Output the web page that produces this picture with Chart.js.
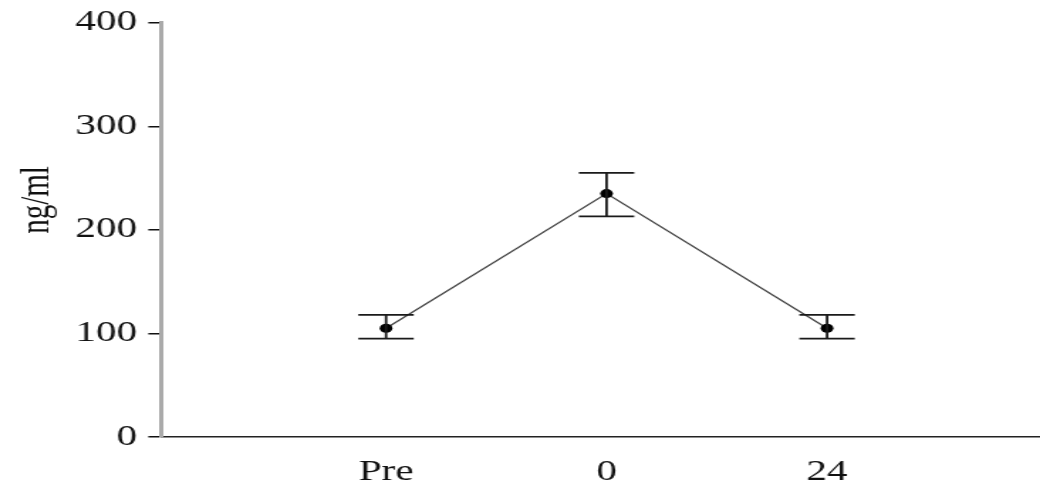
<!DOCTYPE html>
<html>
<head>
<meta charset="utf-8">
<script src="https://cdn.jsdelivr.net/npm/chart.js@4/dist/chart.umd.min.js"></script>
<style>
    html, body { margin: 0; padding: 0; background: #fff; overflow: hidden; }
    /* the source figure is stretched sideways, so the canvas is too */
    #wrap { width: 737px; height: 481px; transform: scaleX(1.4208); transform-origin: 0 0; }
</style>
</head>
<body>
<div id="wrap"><canvas id="chart" width="737" height="481"></canvas></div>
<script>
const timePoints = ['Pre', '0', '24'];
const meanValues = [105, 235, 105];
const errorLow = [95, 213, 95];
const errorHigh = [118, 255, 118];
const yTicks = [0, 100, 200, 300, 400];
const yTitle = 'ng/ml';

const serif = 'Liberation Serif';

const errorBars = {
    id: 'errorBars',
    afterDatasetsDraw(chart) {
        const { ctx, scales: { x, y } } = chart;
        ctx.save();
        ctx.strokeStyle = '#1a1a1a';
        ctx.lineWidth = 1.8;
        meanValues.forEach((v, i) => {
            const px = x.getPixelForValue(i);
            const top = y.getPixelForValue(errorHigh[i]);
            const bot = y.getPixelForValue(errorLow[i]);
            ctx.beginPath();
            ctx.moveTo(px, top); ctx.lineTo(px, bot);
            ctx.moveTo(px - 19.5, top); ctx.lineTo(px + 19.5, top);
            ctx.moveTo(px - 19.5, bot); ctx.lineTo(px + 19.5, bot);
            ctx.stroke();
        });
        ctx.restore();
    }
};

const sideTitle = {
    id: 'sideTitle',
    afterDraw(chart) {
        const ctx = chart.ctx;
        ctx.save();
        ctx.translate(26, 200);
        ctx.rotate(-Math.PI / 2);
        ctx.font = '29px "' + serif + '"';
        ctx.fillStyle = '#111';
        ctx.textAlign = 'center';
        ctx.textBaseline = 'middle';
        ctx.fillText(yTitle, 0, 0);
        ctx.restore();
    }
};

// drop the label overflow padding so the plot box stays where we put it
const noPad = (s) => { s.paddingLeft = 0; s.paddingRight = 0; s.paddingTop = 0; s.paddingBottom = 0; };

new Chart(document.getElementById('chart').getContext('2d'), {
    type: 'line',
    data: {
        datasets: [{
            data: meanValues.map((v, i) => ({ x: i, y: v })),
            borderColor: '#444',
            borderWidth: 1.3,
            pointRadius: 4.5,
            pointBackgroundColor: '#000',
            pointBorderWidth: 0,
            tension: 0
        }]
    },
    options: {
        responsive: false,
        animation: false,
        devicePixelRatio: 1,
        layout: { padding: { top: 22.7, left: 0, right: 0, bottom: 0 } },
        plugins: { legend: { display: false }, tooltip: { enabled: false } },
        scales: {
            x: {
                type: 'linear',
                min: -1.02,
                max: 2.969,
                afterBuildTicks: (s) => { s.ticks = timePoints.map((_, i) => ({ value: i })); },
                afterFit: (s) => { s.height = 44; noPad(s); },
                grid: { display: false },
                border: { color: '#222', width: 1.5 },
                ticks: {
                    padding: 10,
                    color: '#111',
                    font: { family: serif, size: 29 },
                    callback: (v) => timePoints[v]
                }
            },
            y: {
                min: 0,
                max: 400,
                afterBuildTicks: (s) => { s.ticks = yTicks.map(v => ({ value: v })); },
                afterFit: (s) => { s.width = 113.4; noPad(s); },
                grid: { drawOnChartArea: false, drawTicks: true, tickLength: 9, tickColor: '#111', lineWidth: 1.5 },
                border: { color: '#aaa', width: 3 },
                ticks: {
                    padding: 8,
                    color: '#111',
                    font: { family: serif, size: 29 }
                }
            }
        }
    },
    plugins: [errorBars, sideTitle]
});
</script>
</body>
</html>
